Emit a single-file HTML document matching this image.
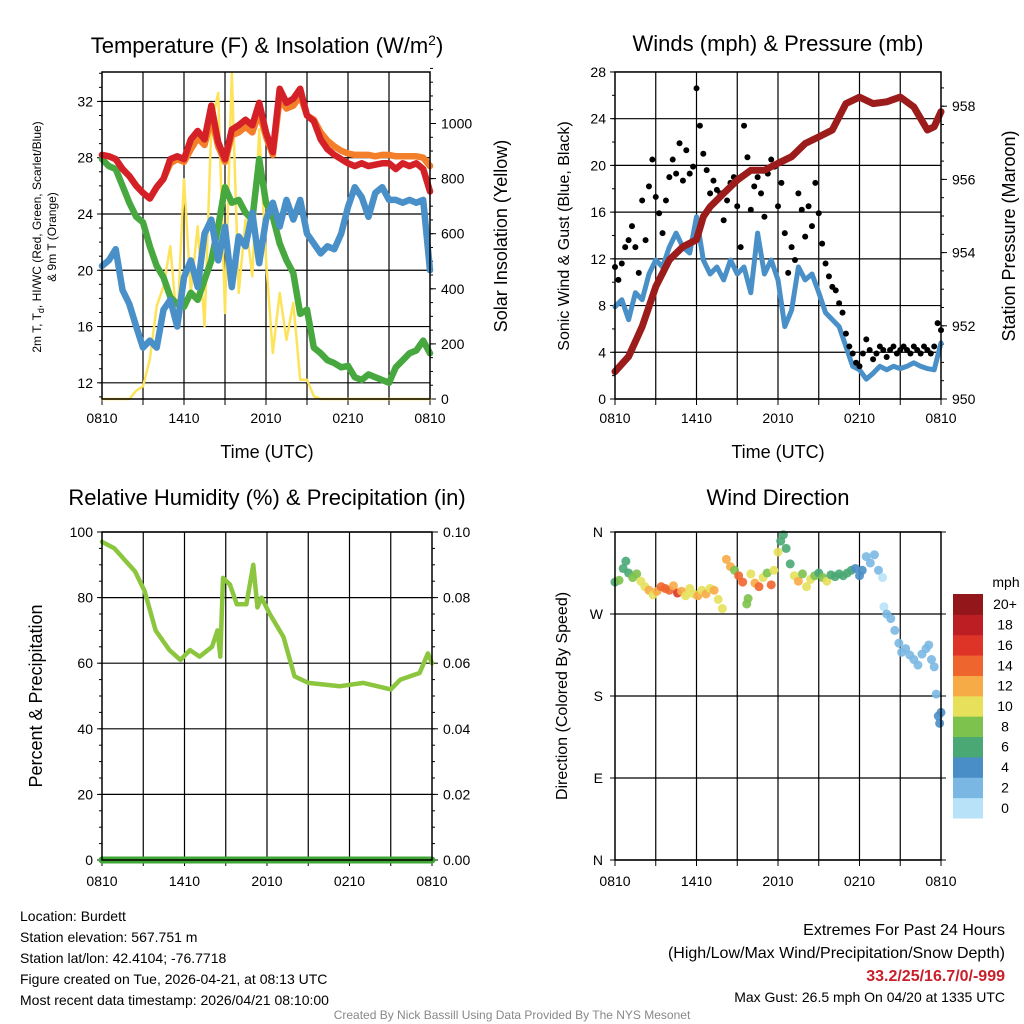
<!DOCTYPE html>
<html><head><meta charset="utf-8"><style>
body{margin:0;background:#fff;}
svg{display:block;font-family:"Liberation Sans",Arial,sans-serif;}
</style></head><body>
<svg id="c" width="1024" height="1024" viewBox="0 0 1024 1024"></svg>
<script>
// ---- data (hours since 0810 UTC) ----
const halfHours = Array.from({length:49},(_,i)=>i*0.5);
const tempRed = [28.2,28.1,27.9,27.2,26.7,26.0,25.5,25.1,25.9,26.5,27.9,28.1,27.9,29.3,29.9,29.3,31.7,29.1,27.9,30.0,30.3,30.7,30.3,31.9,29.8,28.4,32.9,31.9,32.2,32.9,31.0,30.6,29.3,28.6,28.2,27.9,27.6,27.4,27.6,27.4,27.5,27.6,27.6,27.2,27.6,27.4,27.6,27.2,25.6];
const tempOrange = [28.2,28.1,27.9,27.2,26.7,26.0,25.5,25.1,25.9,26.5,27.6,27.9,27.7,28.6,29.4,28.9,30.8,28.8,27.7,29.6,29.8,30.2,29.8,31.2,29.5,28.2,32.2,31.5,31.7,32.4,31.0,30.7,29.8,29.2,28.8,28.5,28.3,28.2,28.2,28.2,28.1,28.2,28.2,28.1,28.1,28.1,28.1,28.0,27.4];
const dewGreen = [27.9,27.4,27.2,26.0,24.8,23.8,23.4,21.7,20.3,19.5,18.1,17.6,17.4,18.4,17.9,19.3,20.7,23.1,25.9,24.8,25.0,24.1,23.6,27.9,24.8,23.8,21.9,20.7,19.8,16.9,17.2,14.5,14.1,13.6,13.4,13.1,13.2,12.4,12.2,12.6,12.4,12.2,12.0,13.1,13.6,14.1,14.3,15.0,14.1];
const chillBlue = [20.3,20.7,21.5,18.6,17.6,16.0,14.5,15.0,14.5,17.2,17.9,16.0,19.5,20.7,18.8,22.6,23.6,20.7,23.1,18.8,22.4,21.7,24.1,20.5,23.6,24.8,23.1,25.0,23.6,25.0,22.6,21.9,21.2,21.7,21.5,22.6,24.5,25.9,25.2,23.8,25.5,25.9,25.0,25.0,24.8,25.0,24.8,25.0,20.0];
const solar = [0,0,0,0,0,30,46,143,337,409,554,264,797,385,627,264,990,1111,312,1184,385,651,445,978,506,167,385,215,349,70,70,10,0,0,0,0,0,0,0,0,0,0,0,0,0,0,0,0,0];
const windSonic = [7.9,8.5,6.8,9.1,8.5,10.7,11.9,11.3,13.0,14.2,13.0,12.5,15.6,11.9,10.7,11.3,10.2,11.9,10.7,11.3,9.1,14.2,10.7,11.9,10.2,6.2,7.6,11.3,10.2,10.7,9.1,7.4,6.8,6.2,4.5,2.8,2.5,1.7,2.2,2.8,2.5,2.8,2.6,2.8,3.1,2.8,2.6,2.5,4.8];
const quarterHours = Array.from({length:97},(_,i)=>i*0.25);
const windGust = [11.3,10.2,11.6,13.0,13.6,14.8,13.0,10.8,17.0,13.6,18.2,20.5,17.3,15.9,14.2,17.0,19.0,20.5,19.3,21.9,18.7,21.3,19.3,19.9,26.6,23.4,21.0,19.6,17.6,18.7,17.9,17.6,15.3,17.0,18.5,19.0,16.5,13.0,23.4,20.7,16.2,18.2,19.0,17.6,15.6,19.3,20.5,19.9,16.5,18.5,14.2,10.8,13.0,11.9,17.6,16.2,13.9,16.5,14.8,18.5,15.9,13.3,11.6,10.5,9.6,9.3,8.2,7.4,5.6,4.5,3.9,3.1,2.8,3.9,5.1,4.2,3.4,3.9,4.5,4.2,3.6,4.2,4.5,3.9,4.2,4.5,4.2,3.9,4.5,4.2,3.9,4.5,4.2,3.9,4.5,6.5,5.9];
const pressHours = [0,1,2,3,4,5,6,6.5,7,8,9,10,11,12,13,14,15,16,17,18,19,20,21,22,23,23.5,24];
const pressure = [950.75,951.16,951.98,953.07,953.8,954.16,954.35,954.98,955.25,955.62,955.98,956.25,956.25,956.44,956.62,956.98,957.16,957.35,958.07,958.25,958.07,958.12,958.25,957.98,957.35,957.44,957.85];
const rhHours = [0,0.9,2.4,3.1,3.9,4.9,5.7,6.4,7.1,8,8.4,8.6,8.8,9.3,9.8,10.5,11,11.3,11.6,12.2,13.2,14,15,17.3,19,21,21.7,23.1,23.7,24];
const rhValues = [97,95,88,82,70,64,61,64,62,65,70,62,86,84,78,78,90,77,80,75,68,56,54,53,54,52,55,57,63,60];
const precipHours = [0,24];
const precipValues = [0,0];
const dirHours = [0,0.3,0.6,0.8,1.0,1.3,1.6,1.9,2.2,2.5,2.8,3.1,3.4,3.7,4.0,4.3,4.6,4.9,5.2,5.5,5.8,6.1,6.4,6.7,7.0,7.3,7.6,7.9,8.2,8.5,8.8,9.1,9.4,9.7,9.8,10.0,10.3,10.6,10.9,11.2,11.5,11.7,12.0,12.2,12.4,12.6,12.9,13.2,13.5,13.8,14.1,14.4,14.7,15.0,15.3,15.6,15.9,16.2,16.5,16.8,17.1,17.4,17.7,18.0,18.2,18.5,18.8,19.1,19.4,19.7,19.8,20.0,20.3,20.6,20.9,21.1,21.4,21.7,22.0,22.3,22.6,22.9,23.1,23.3,23.5,23.65,23.8,23.9,24.0];
const dirDeg = [305,307,320,328,315,310,314,306,300,296,291,295,300,298,296,301,293,295,290,298,292,290,296,292,298,296,286,276,330,322,318,312,305,281,287,314,304,300,310,315,302,318,338,350,357,342,325,312,306,314,300,308,312,315,310,306,313,311,314,312,315,318,320,312,318,333,326,335,318,310,278,270,265,252,238,228,232,225,220,214,226,232,236,220,212,182,158,150,162];
const dirSpeed = [7,8,6,6,7,8,9,10,11,12,11,12,14,15,14,13,17,12,10,11,10,12,10,13,11,12,10,10,12,12,9,15,14,8,8,10,12,15,11,9,14,10,11,6,6,7,6,10,12,9,11,10,8,6,9,10,7,6,7,6,6,7,5,4,4,3,2,2,3,1,1,3,3,3,3,2,3,2,3,2,3,2,2,3,2,3,4,4,4];
const speedBins = ["0","2","4","6","8","10","12","14","16","18","20+"];
const binColors = ["#b7e2f7","#7ab8e3","#4a8ec7","#4aa874","#7dc24d","#e6e05a","#f7ab46","#ef652e","#de3427","#bd1e24","#93161b"];
const timeLabels = ["0810","1410","2010","0210","0810"];

const NS="http://www.w3.org/2000/svg";
const svg=document.getElementById('c');
function el(tag,attrs,parent){const e=document.createElementNS(NS,tag);for(const k in attrs)e.setAttribute(k,attrs[k]);(parent||svg).appendChild(e);return e;}
function txt(s,x,y,size,anchor,parent,extra){const t=el('text',Object.assign({x:x,y:y,'font-size':size,'text-anchor':anchor||'middle',fill:'#000'},extra||{}),parent);t.textContent=s;return t;}

function frame(g,x0,x1,y0,y1,ys){
  for(let h=3;h<24;h+=3){const x=x0+h*(x1-x0)/24;const l=el('line',{x1:x,x2:x,y1:y0,y2:y1,stroke:'#000','stroke-width':1.2},g);
  
  }
  ys.forEach(y=>{const l=el('line',{x1:x0,x2:x1,y1:y,y2:y,stroke:'#000','stroke-width':1.2},g);
  
  });
  for(let h=0;h<=24;h+=3){const x=x0+h*(x1-x0)/24;el('line',{x1:x,x2:x,y1:y1,y2:y1+6,stroke:'#000','stroke-width':1},g);}
}
function border(g,x0,x1,y0,y1){const r=el('rect',{x:x0,y:y0,width:x1-x0,height:y1-y0,fill:'none',stroke:'#000','stroke-width':1.5},g);
  
  }
function xLabels(g,x0,x1,y){timeLabels.forEach((s,i)=>{const t=txt(s,x0+i*6*(x1-x0)/24,y,14,'middle',g);
  
  });}
function path(g,xs,ys,fx,fy,color,w,name){let d='';xs.forEach((h,i)=>{d+=(i?'L':'M')+fx(h).toFixed(1)+','+fy(ys[i]).toFixed(1);});
  const p=el('path',{d:d,fill:'none',stroke:color,'stroke-width':w,'stroke-linejoin':'round','stroke-linecap':'round'},g);
  
  return p;}

// ---------- Panel 1 ----------
{
const g=el('g',{});  
const X0=102,X1=430,Y0=72,Y1=399;
const fx=h=>X0+h*(X1-X0)/24, fy=t=>399-(t-10.85)*14.07, fs=w=>399-w*0.2755;
const tT=[12,16,20,24,28,32];
frame(g,X0,X1,Y0,Y1,tT.map(fy));
tT.forEach(t=>{el('line',{x1:X0-5,x2:X0,y1:fy(t),y2:fy(t),stroke:'#000'},g);const l=txt(String(t),X0-9,fy(t)+5,14,'end',g);
  
  });
for(let t=11;t<=34;t++)el('line',{x1:X0-3,x2:X0,y1:fy(t),y2:fy(t),stroke:'#000'},g);
[0,200,400,600,800,1000].forEach(w=>{el('line',{x1:X1,x2:X1+6,y1:fs(w),y2:fs(w),stroke:'#000'},g);const l=txt(String(w),X1+11,fs(w)+5,14,'start',g);
  
  });
for(let w=0;w<=1200;w+=50)el('line',{x1:X1,x2:X1+3,y1:fs(w),y2:fs(w),stroke:'#000'},g);
path(g,halfHours,solar,fx,fs,'#fde35a',2.5,'solar-insolation-line');
path(g,halfHours,dewGreen,fx,fy,'#47a83f',6.5,'dewpoint-line');
path(g,halfHours,chillBlue,fx,fy,'#4a90c8',6.5,'wind-chill-line');
path(g,halfHours,tempOrange,fx,fy,'#f47f2b',6.5,'9m-temperature-line');
path(g,halfHours,tempRed,fx,fy,'#d42027',6.5,'2m-temperature-line');
border(g,X0,X1,Y0,Y1);
xLabels(g,X0,X1,423);
const ti=txt('',267,53,22,'middle',g);ti.innerHTML='Temperature (F) &amp; Insolation (W/m<tspan dy="-8" font-size="14">2</tspan><tspan dy="8">)</tspan>';
 
const xa=txt('Time (UTC)',267,458,18,'middle',g);  
const yl=el('text',{transform:'translate(41,237) rotate(-90)','font-size':12,'text-anchor':'middle'},g);yl.innerHTML='2m T, T<tspan dy="3" font-size="9">d</tspan><tspan dy="-3">, HI/WC (Red, Green, Scarlet/Blue)</tspan>';
 
const yl2=el('text',{transform:'translate(56,237) rotate(-90)','font-size':12,'text-anchor':'middle'},g);yl2.textContent='& 9m T (Orange)';
 
const yr=el('text',{transform:'translate(507,236) rotate(-90)','font-size':18,'text-anchor':'middle'},g);yr.textContent='Solar Insolation (Yellow)';
 
}

// ---------- Panel 2 ----------
{
const g=el('g',{});  
const X0=615,X1=941,Y0=72,Y1=399;
const fx=h=>X0+h*(X1-X0)/24, fy=m=>399-m*11.68, fp=p=>399-(p-950)*36.6;
const tW=[0,4,8,12,16,20,24,28];
frame(g,X0,X1,Y0,Y1,tW.map(fy));
tW.forEach(t=>{el('line',{x1:X0-5,x2:X0,y1:fy(t),y2:fy(t),stroke:'#000'},g);const l=txt(String(t),X0-9,fy(t)+5,14,'end',g);
  
  });
for(let t=0;t<=28;t+=2)el('line',{x1:X0-3,x2:X0,y1:fy(t),y2:fy(t),stroke:'#000'},g);
[950,952,954,956,958].forEach(p=>{el('line',{x1:X1,x2:X1+6,y1:fp(p),y2:fp(p),stroke:'#000'},g);const l=txt(String(p),X1+11,fp(p)+5,14,'start',g);
  
  });
for(let p=950;p<=958.9;p+=0.5)el('line',{x1:X1,x2:X1+3,y1:fp(p),y2:fp(p),stroke:'#000'},g);
path(g,halfHours,windSonic,fx,fy,'#4a90c8',5,'sonic-wind-line');
quarterHours.forEach((h,i)=>{const c=el('circle',{cx:fx(h),cy:fy(windGust[i]),r:3,fill:'#000'},g);
  
  });
path(g,pressHours,pressure,fx,fp,'#9c1c1c',7,'pressure-line');
border(g,X0,X1,Y0,Y1);
xLabels(g,X0,X1,423);
const ti=txt('Winds (mph) & Pressure (mb)',778,51,22,'middle',g);
const xa=txt('Time (UTC)',778,458,18,'middle',g);
const yl=el('text',{transform:'translate(569,236) rotate(-90)','font-size':16,'text-anchor':'middle'},g);yl.textContent='Sonic Wind & Gust (Blue, Black)';
 
const yr=el('text',{transform:'translate(1015,236) rotate(-90)','font-size':18,'text-anchor':'middle'},g);yr.textContent='Station Pressure (Maroon)';
 
}

// ---------- Panel 3 ----------
{
const g=el('g',{});  
const X0=102,X1=432,Y0=532,Y1=860;
const fx=h=>X0+h*(X1-X0)/24, fy=v=>860-v*3.28, fq=v=>860-v*3280;
const tR=[0,20,40,60,80,100];
frame(g,X0,X1,Y0,Y1,tR.map(fy));
tR.forEach(t=>{el('line',{x1:X0-5,x2:X0,y1:fy(t),y2:fy(t),stroke:'#000'},g);const l=txt(String(t),X0-9,fy(t)+5,14,'end',g);
  
  });
for(let t=0;t<=100;t+=5)el('line',{x1:X0-3,x2:X0,y1:fy(t),y2:fy(t),stroke:'#000'},g);
["0.00","0.02","0.04","0.06","0.08","0.10"].forEach(s=>{const v=parseFloat(s);el('line',{x1:X1,x2:X1+6,y1:fq(v),y2:fq(v),stroke:'#000'},g);const l=txt(s,X1+11,fq(v)+5,14,'start',g);
  
  });
for(let v=0;v<=0.1001;v+=0.005)el('line',{x1:X1,x2:X1+3,y1:fq(v),y2:fq(v),stroke:'#000'},g);
path(g,rhHours,rhValues,fx,fy,'#8cc63f',4.5,'relative-humidity-line');
path(g,precipHours,precipValues,fx,fq,'#3fa535',7,'precipitation-line');
border(g,X0,X1,Y0,Y1);
xLabels(g,X0,X1,886);
const ti=txt('Relative Humidity (%) & Precipitation (in)',267,505,22,'middle',g);
const yl=el('text',{transform:'translate(42,696) rotate(-90)','font-size':18,'text-anchor':'middle'},g);yl.textContent='Percent & Precipitation';
 
}

// ---------- Panel 4 ----------
{
const g=el('g',{});  
const X0=615,X1=941,Y0=532,Y1=860;
const fx=h=>X0+h*(X1-X0)/24, fy=d=>860-d*328/360;
const dirTicks=[0,90,180,270,360], dirLabels=["N","E","S","W","N"];
frame(g,X0,X1,Y0,Y1,dirTicks.map(fy));
dirTicks.forEach((d,i)=>{el('line',{x1:X0-5,x2:X0,y1:fy(d),y2:fy(d),stroke:'#000'},g);const l=txt(dirLabels[i],X0-12,fy(d)+5,14,'end',g);
  
  });
dirTicks.forEach(d=>el('line',{x1:X1,x2:X1+5,y1:fy(d),y2:fy(d),stroke:'#000'},g));
dirHours.forEach((h,i)=>{const b=Math.min(10,Math.floor(dirSpeed[i]/2));const c=el('circle',{cx:fx(h),cy:fy(dirDeg[i]),r:4.5,fill:binColors[b],'fill-opacity':0.9},g);
  
  });
border(g,X0,X1,Y0,Y1);
xLabels(g,X0,X1,886);
const ti=txt('Wind Direction',778,505,22,'middle',g);
const yl=el('text',{transform:'translate(567,696) rotate(-90)','font-size':16,'text-anchor':'middle'},g);yl.textContent='Direction (Colored By Speed)';
 
const cb=el('g',{},g);  
const bh=(818-594)/11;
speedBins.forEach((s,i)=>{const y=818-(i+1)*bh;const r=el('rect',{x:953,y:y,width:30,height:bh+0.5,fill:binColors[i]},cb);
  
  
  const l=txt(s,1005,y+bh/2+5,14,'middle',cb);
  
  });
const u=txt('mph',1006,587,14,'middle',cb);
}

// ---------- Footer ----------
{
const g=el('g',{});  
["Location: Burdett","Station elevation: 567.751 m","Station lat/lon: 42.4104; -76.7718","Figure created on Tue, 2026-04-21, at 08:13 UTC","Most recent data timestamp: 2026/04/21 08:10:00"].forEach((s,i)=>{
  const t=txt(s,20,921+i*21,14,'start',g);
  
  });
const a=txt('Extremes For Past 24 Hours',1005,935,16,'end',g);
const b=txt('(High/Low/Max Wind/Precipitation/Snow Depth)',1005,958,16,'end',g);
const c=txt('33.2/25/16.7/0/-999',1005,981,16,'end',g,{fill:'#c8202a','font-weight':'bold'});
const d=txt('Max Gust: 26.5 mph On 04/20 at 1335 UTC',1005,1002,14,'end',g);
const e=txt('Created By Nick Bassill Using Data Provided By The NYS Mesonet',512,1019,12,'middle',g,{fill:'#888'});
}
</script>
</body></html>
